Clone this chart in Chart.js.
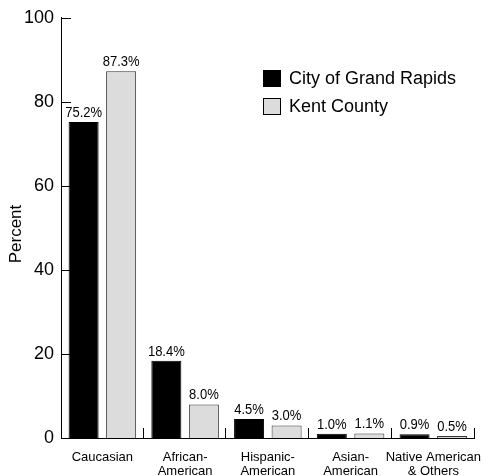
<!DOCTYPE html>
<html>
<head>
<meta charset="utf-8">
<script src="https://cdn.jsdelivr.net/npm/chart.js@4"></script>
<style>
  html, body { margin: 0; padding: 0; background: #fff; }
  #wrap { width: 494px; height: 476px; }
</style>
</head>
<body>
<div id="wrap"><canvas id="raceChart" width="494" height="476"></canvas></div>
<script>
const categories = [
  "Caucasian",
  ["African-", "American"],
  ["Hispanic-", "American"],
  ["Asian-", "American"],
  ["Native American", "& Others"]
];
const cityValues = [75.2, 18.4, 4.5, 1.0, 0.9];
const countyValues = [87.3, 8.0, 3.0, 1.1, 0.5];
const yTicks = [0, 20, 40, 60, 80, 100];
const yTitle = "Percent";

const FONT = "'Liberation Sans', Arial, sans-serif";

// slightly narrow text, like the original
function narrowText(ctx, text, x, y, sx) {
  ctx.save();
  ctx.translate(x, y);
  ctx.scale(sx, 1);
  ctx.fillText(text, 0, 0);
  ctx.restore();
}

// value labels, inward tick marks, y title and the legend box
const extras = {
  id: 'extras',
  afterDatasetsDraw(chart) {
    const ctx = chart.ctx;
    const x = chart.scales.x, y = chart.scales.y;
    ctx.save();

    // labels above bars
    ctx.fillStyle = '#000';
    ctx.font = '14px ' + FONT;
    ctx.textAlign = 'center';
    ctx.textBaseline = 'alphabetic';
    chart.data.datasets.forEach((ds, di) => {
      chart.getDatasetMeta(di).data.forEach((bar, i) => {
        narrowText(ctx, ds.data[i].toFixed(1) + '%', bar.x, bar.y - 5, 0.93);
      });
    });

    // ticks pointing into the plot
    ctx.strokeStyle = '#000';
    ctx.lineWidth = 1;
    ctx.beginPath();
    yTicks.forEach(v => {
      const py = Math.round(y.getPixelForValue(v)) + 0.5;
      ctx.moveTo(x.left, py);
      ctx.lineTo(x.left + 10, py);
    });
    const step = (x.right - x.left) / categories.length;
    for (let i = 1; i <= categories.length; i++) {
      const px = Math.round(x.left + step * i) - 0.5;
      ctx.moveTo(px, y.bottom);
      ctx.lineTo(px, y.bottom - 10);
    }
    ctx.stroke();

    // y title
    ctx.save();
    ctx.translate(21, 234);
    ctx.rotate(-Math.PI / 2);
    ctx.font = '17px ' + FONT;
    ctx.textAlign = 'center';
    ctx.textBaseline = 'alphabetic';
    ctx.fillText(yTitle, 0, 0);
    ctx.restore();

    // legend
    ctx.font = '18px ' + FONT;
    ctx.textAlign = 'left';
    ctx.textBaseline = 'middle';
    chart.data.datasets.forEach((ds, di) => {
      const top = 70 + di * 28;
      ctx.fillStyle = ds.backgroundColor;
      ctx.fillRect(263.5, top + 0.5, 17, 16);
      ctx.strokeStyle = '#000';
      ctx.strokeRect(263.5, top + 0.5, 17, 16);
      ctx.fillStyle = '#000';
      ctx.fillText(ds.label, 289, top + 9);
    });

    ctx.restore();
  }
};

new Chart(document.getElementById('raceChart'), {
  type: 'bar',
  data: {
    labels: categories,
    datasets: [
      { label: 'City of Grand Rapids', data: cityValues, backgroundColor: '#000000', borderColor: '#000000', borderWidth: 1 },
      { label: 'Kent County', data: countyValues, backgroundColor: '#dcdcdc', borderColor: '#333333', borderWidth: 1 }
    ]
  },
  options: {
    responsive: false,
    animation: false,
    layout: { padding: { left: 0, right: 10, top: 16, bottom: 0 } },
    categoryPercentage: 0.907,
    barPercentage: 0.8,
    plugins: { legend: { display: false }, tooltip: { enabled: false } },
    scales: {
      x: {
        grid: { display: false, drawTicks: false },
        border: { display: true, color: '#000', width: 1 },
        ticks: { color: '#000', font: { family: FONT, size: 13, lineHeight: 1.08 }, padding: 12, maxRotation: 0, autoSkip: false },
        afterFit(scale) { scale.height = 38; }
      },
      y: {
        min: 0,
        max: 100,
        afterBuildTicks(scale) { scale.ticks = yTicks.map(v => ({ value: v })); },
        grid: { display: false, drawTicks: false },
        border: { display: true, color: '#000', width: 1 },
        ticks: { color: '#000', font: { family: FONT, size: 18 }, padding: 7 },
        afterFit(scale) { scale.width = 61; }
      }
    }
  },
  plugins: [extras]
});
</script>
</body>
</html>
